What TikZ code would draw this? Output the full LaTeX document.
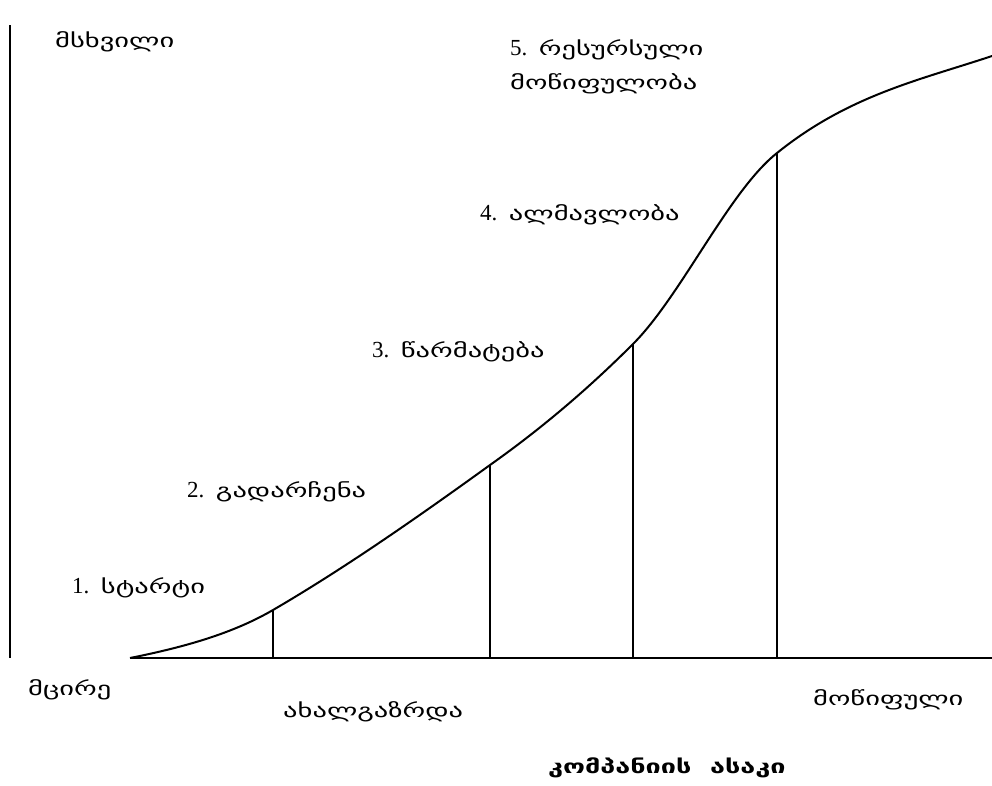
\documentclass[tikz,border=0pt]{standalone}
\usepackage{fontspec}
\setmainfont{Liberation Serif}
\newfontfamily\geo[FakeStretch=1.5]{DejaVu Sans}
\newfontfamily\geobold[FakeStretch=1.42]{DejaVu Sans Bold}
\newcommand{\gsz}{\fontsize{19}{24}\selectfont}
\begin{document}
\begin{tikzpicture}[x=1pt,y=-1pt,
  axis/.style={line width=2.2pt},
  curveline/.style={line width=2pt, line join=round},
  stage/.style={line width=1.8pt},
  lbl/.style={inner sep=0pt, anchor=west, font=\fontsize{23}{27}\selectfont},
  geolbl/.style={inner sep=0pt, anchor=west, font=\gsz\geo}]
\useasboundingbox (0,0) rectangle (992,785);

% axes
\coordinate (ytop) at (10,25);
\coordinate (ybot) at (10,658);
\coordinate (x0) at (130,658);
\coordinate (xend) at (992,658);
\draw[axis] (ytop) -- (ybot);
\draw[axis] (x0) -- (xend);

% growth curve and the points that separate the stages
\coordinate (c1) at (273,610);
\coordinate (c2) at (490,465);
\coordinate (c3) at (633,344);
\coordinate (c4) at (777,153);
\coordinate (cend) at (992,56);
\draw[curveline] (x0)
  .. controls (190,646) and (235,632) .. (c1)
  .. controls (345,568) and (418,517) .. (c2)
  .. controls (538,431) and (585,392) .. (c3)
  .. controls (681,296) and (729,191) .. (c4)
  .. controls (849,95) and (920,80) .. (cend);

% stage boundaries
\foreach \c/\xx in {c1/273, c2/490, c3/633, c4/777} {
  \coordinate (\c f) at (\xx,658);
  \draw[stage] (\c) -- (\c f);
}

% labels
\node[geolbl] (ybig) at (55,42) {მსხვილი};
\node[lbl] (s5) at (510,50) {5.\ \ {\gsz\geo რესურსული}};
\node[geolbl] (s5b) at (510,84) {მოწიფულობა};
\node[lbl] (s4) at (480,215) {4.\ \ {\gsz\geo ალმავლობა}};
\node[lbl] (s3) at (372,352) {3.\ \ {\gsz\geo წარმატება}};
\node[lbl] (s2) at (187,492) {2.\ \ {\gsz\geo გადარჩენა}};
\node[lbl] (s1) at (72,588) {1.\ \ {\gsz\geo სტარტი}};
\node[geolbl] (small) at (28,690) {მცირე};
\node[geolbl] (young) at (283,712) {ახალგაზრდა};
\node[geolbl] (mature) at (813,700) {მოწიფული};
\node[geolbl, font=\gsz\geobold] (age) at (548,768) {კომპანიის\ \ ასაკი};
\end{tikzpicture}
\end{document}
